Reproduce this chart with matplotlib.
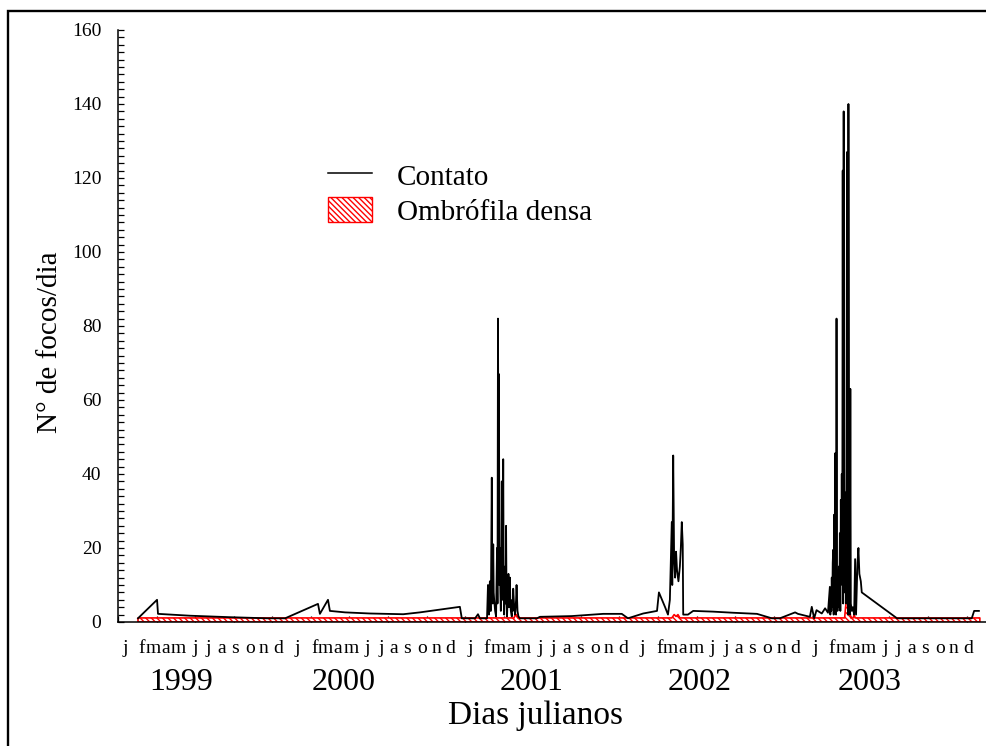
import matplotlib
matplotlib.use("Agg")
import matplotlib.pyplot as plt
from matplotlib.lines import Line2D
from matplotlib.patches import Patch, Rectangle
from matplotlib.ticker import MultipleLocator

plt.rcParams['font.family'] = ['Liberation Serif', 'DejaVu Serif']
plt.rcParams['hatch.linewidth'] = 1.0

# ======== data (x = julian day counted from 1 Jan 1999) ======== #
# 1999 - 2000 background
days_a = [42, 82, 84, 151, 235, 313, 351, 420, 424, 441, 445, 477, 529, 599, 634,
          718, 722, 750, 756, 760, 775]
vals_a = [1, 6, 2.2, 1.7, 1.3, 1, 1, 4.9, 2.2, 6, 3, 2.6, 2.3, 2.1, 2.6,
          4.1, 1, 1, 2.1, 1, 1]
# 2001 peak
days_b = [777, 778, 779, 780, 781, 782, 783, 784, 785, 786, 787, 788, 789, 790, 792,
          794, 795, 796, 797, 798, 799, 800, 801, 802, 803, 804, 805, 806, 807, 808,
          809, 810, 811, 812, 813, 814, 815, 816, 817, 818, 819, 820, 821, 822, 823,
          824, 825, 827, 828, 829, 830, 832, 834, 836, 837, 839, 841, 844]
vals_b = [10, 3, 2, 8, 11, 3, 3, 20, 39, 12, 5, 21, 8, 6, 3,
          1.5, 10, 20, 5, 82, 40, 67, 10, 20, 8, 3, 15, 38, 6, 10,
          44, 8, 2, 8, 15, 5, 26, 6, 1.5, 5, 9, 13, 4, 7, 12,
          5, 3, 1.5, 6, 3, 9, 4, 2, 6, 10, 3, 1.5, 1]
# 2001 - 2002
days_c = [880, 886, 953, 1019, 1058, 1071, 1103, 1132, 1136, 1149, 1155, 1159, 1163,
          1164, 1166, 1168, 1170, 1172, 1174, 1177, 1180, 1182, 1184, 1186, 1187, 1197,
          1208, 1250, 1292, 1342, 1373, 1390, 1422, 1428, 1453, 1457, 1462, 1467, 1478,
          1485, 1491]
vals_c = [1, 1.4, 1.6, 2.2, 2.2, 1, 2.3, 3, 8, 4, 2, 6, 27,
          10, 45, 16, 12, 19, 14, 11, 15, 20, 27, 21, 2, 2,
          3, 2.8, 2.5, 2.2, 1, 1, 2.6, 2.2, 1.4, 4.1, 1, 3.2, 2.3,
          3.7, 2.5]
# 2003 peak and the rest of the year
days_d = [1493, 1495, 1496, 1497, 1498, 1499, 1500, 1501, 1502, 1503, 1504, 1505, 1506,
          1507, 1508, 1509, 1510, 1511, 1512, 1513, 1514, 1515, 1516, 1517, 1518, 1519,
          1520, 1521, 1522, 1523, 1524, 1525, 1526, 1527, 1528, 1529, 1530, 1531, 1532,
          1533, 1534, 1535, 1536, 1537, 1538, 1539, 1541, 1543, 1546, 1548, 1550, 1553,
          1555, 1557, 1560, 1562, 1636, 1793, 1798, 1808]
vals_d = [6, 9.5, 2, 8, 3, 12, 4, 16, 19.5, 2, 29, 10, 45.6,
          20, 2, 82, 15, 3, 10, 4, 15, 6, 24, 3, 33, 12,
          40, 10, 122, 5, 138, 30, 8, 15, 35, 5, 54, 127, 20,
          2, 140, 63, 10, 2, 63, 5, 3, 4, 2, 17, 2, 16,
          20, 13, 11, 8, 1, 1, 3, 3]

contato_day = days_a + days_b + days_c + days_d
contato_val = vals_a + vals_b + vals_c + vals_d

densa_day = [42, 832, 834, 837, 840, 1160, 1163, 1168, 1172, 1176, 1180,
             1522, 1526, 1528, 1530, 1535, 1537, 1539, 1544, 1546, 1548, 1810]
densa_val = [1.1, 1.1, 2, 2, 1.1, 1.1, 1.1, 2, 1.5, 2, 1.1,
             1.1, 1.1, 4, 6, 6, 3, 1.1, 1.1, 2, 1.1, 1.1]

years = ["1999", "2000", "2001", "2002", "2003"]
months = ["j", "f", "m", "a", "m", "j", "j", "a", "s", "o", "n", "d"]


def main():
    fig = plt.figure(figsize=(9.87, 7.46), dpi=100)
    ax = fig.add_axes([118 / 987, 124 / 746, 1 - 118 / 987, 592 / 746])

    ax.fill_between(densa_day, 0, densa_val, facecolor="white", edgecolor="red",
                    hatch="\\\\\\\\\\\\", linewidth=1.2, zorder=2)
    ax.plot(contato_day, contato_val, color="black", linewidth=1.3, zorder=3)

    ax.set_xlim(0, 1825)
    ax.set_ylim(0, 160)
    ax.spines["top"].set_visible(False)
    ax.spines["right"].set_visible(False)
    ax.spines["left"].set_linewidth(1.1)
    ax.spines["bottom"].set_linewidth(1.1)

    ax.yaxis.set_major_locator(MultipleLocator(20))
    ax.yaxis.set_minor_locator(MultipleLocator(2))
    ax.xaxis.set_major_locator(MultipleLocator(81))
    ax.tick_params(axis="y", which="both", direction="in", length=4, width=0.9,
                   labelsize=14, pad=12)
    ax.tick_params(axis="x", which="major", direction="in", length=4, width=0.9,
                   labelbottom=False)

    # month letters and year labels under the axis
    trans = ax.get_xaxis_transform()
    month_offsets = [0, 17, 28, 40.5, 53.5, 70, 83.5, 96.5, 110, 125, 138.5, 153]
    year_centers = [181, 344, 532, 700, 870]
    for k, yr in enumerate(years):
        start_px = 125 + 172.5 * k
        for i, m in enumerate(months):
            ax.text((start_px + month_offsets[i] - 118) * 2.1, -0.044, m,
                    transform=trans, ha="center", va="center", fontsize=14)
        ax.text((year_centers[k] - 118) * 2.1, -0.103, yr, transform=trans,
                ha="center", va="center", fontsize=23)
    ax.text((536 - 118) * 2.1, -0.158, "Dias julianos", transform=trans,
            ha="center", va="center", fontsize=24)

    fig.text(50 / 987, 1 - 342 / 746, "N° de focos/dia", rotation=90,
             ha="center", va="center", fontsize=21)

    handles = [Line2D([], [], color="black", linewidth=1.1),
               Patch(facecolor="white", edgecolor="red", hatch="\\\\\\\\\\\\")]
    fig.legend(handles, ["Contato", "Ombrófila densa"], loc="upper left",
               bbox_to_anchor=(328 / 987, 1 - 162 / 746), frameon=False,
               fontsize=21, borderpad=0, borderaxespad=0, handlelength=1.5,
               handleheight=0.95, handletextpad=0.85, labelspacing=0.22)

    # outer frame of the original figure
    fig.patches.append(Rectangle((8 / 987, -0.05), 1.0, 0.05 + 1 - 11 / 746,
                                 transform=fig.transFigure, fill=False,
                                 edgecolor="black", linewidth=1.7))

    fig.savefig("out.png", dpi=100)


if __name__ == "__main__":
    main()
